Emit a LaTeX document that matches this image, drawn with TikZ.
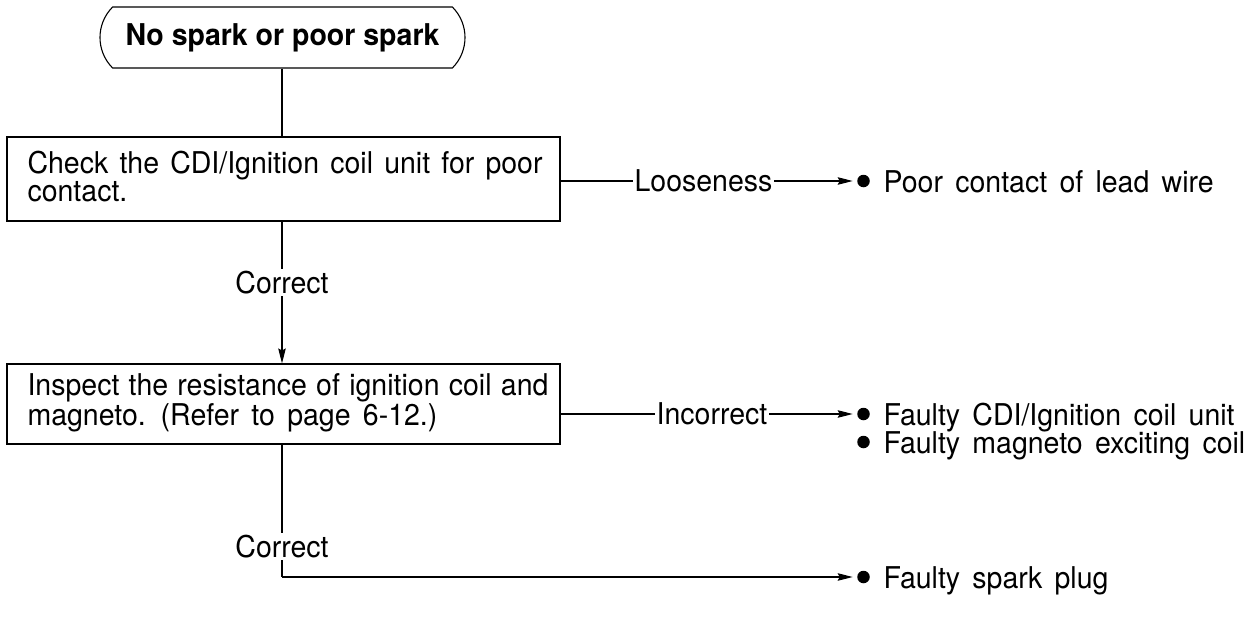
\documentclass[tikz,border=0pt]{standalone}
\usepackage{fontspec}
\setmainfont{TeX Gyre Heros}[FakeStretch=0.95]
\usetikzlibrary{shapes.misc,arrows.meta}
\newcommand\flowfont{\fontsize{30}{28}\selectfont\spaceskip=0.41em plus 0.1em minus 0.1em\relax}
\newcommand\flowhead{\fontsize{30}{28}\selectfont\bfseries}
\begin{document}
\begin{tikzpicture}[x=1pt,y=-1pt,
  line width=1.1pt,
  every node/.style={font=\flowfont},
  startbox/.style={draw,rounded rectangle,rounded rectangle arc length=90,
    minimum width=365,minimum height=61,inner sep=0pt,font=\flowhead},
  stepbox/.style={draw,rectangle,minimum width=553,inner sep=0pt},
  steptext/.style={anchor=base west,inner sep=0pt,align=left},
  lbl/.style={inner sep=2pt,fill=white},
  bul/.style={circle,fill,inner sep=0pt,minimum size=12.5},
  res/.style={anchor=base west,inner sep=0pt},
  arr/.style={-{Stealth[length=15pt,width=7.5pt,inset=2pt]}}
]
\useasboundingbox (0,0) rectangle (1251,624);

% start terminal
\node[startbox] (start) at (282.5,37.5) {No spark or poor spark};

% check steps (text anchored on the baseline of its last line)
\node[stepbox,minimum height=84] (b1) at (283.5,179) {};
\node[steptext] (b1t) at (27,201)
  {\makebox[515pt][s]{Check the CDI/Ignition coil unit for poor}\\contact.};
\node[stepbox,minimum height=80] (b2) at (283.5,404) {};
\node[steptext] (b2t) at (27,425)
  {\makebox[517pt][s]{Inspect the resistance of ignition coil and}\\magneto. (Refer to page 6-12.)};

% main flow
\coordinate (c1) at (282,0);
\draw (start.south -| c1) -- (c1 |- b1.north);
\draw[arr] (c1 |- b1.south) -- node[lbl,pos=0.43] (ok1) {Correct} (c1 |- b2.north);
\coordinate (corner) at (282,577);
\draw (c1 |- b2.south) -- node[lbl,pos=0.77] (ok2) {Correct} (corner);

% results
\node[bul] (p1) at (863.5,181) {};
\node[res] (t1) at (883,192) {Poor contact of lead wire};
\node[bul] (p2) at (863.5,414) {};
\node[res] (t2) at (883,425) {Faulty CDI/Ignition coil unit};
\node[bul] (p3) at (863.5,442) {};
\node[res] (t3) at (883,453) {Faulty magneto exciting coil};
\node[bul] (p4) at (863.5,577) {};
\node[res] (t4) at (883,588) {Faulty spark plug};

% branches
\node[inner sep=1.5pt] (loose) at (703.5,181) {Looseness};
\draw (b1.east |- loose) -- (loose.west);
\draw[arr] (loose.east) -- ([xshift=-4pt]p1.west);

\node[inner sep=1.5pt] (bad) at (712,414) {Incorrect};
\draw (b2.east |- bad) -- (bad.west);
\draw[arr] (bad.east) -- ([xshift=-4pt]p2.west);

\draw[arr] (corner) -- ([xshift=-4pt]p4.west |- corner);
\end{tikzpicture}
\end{document}
